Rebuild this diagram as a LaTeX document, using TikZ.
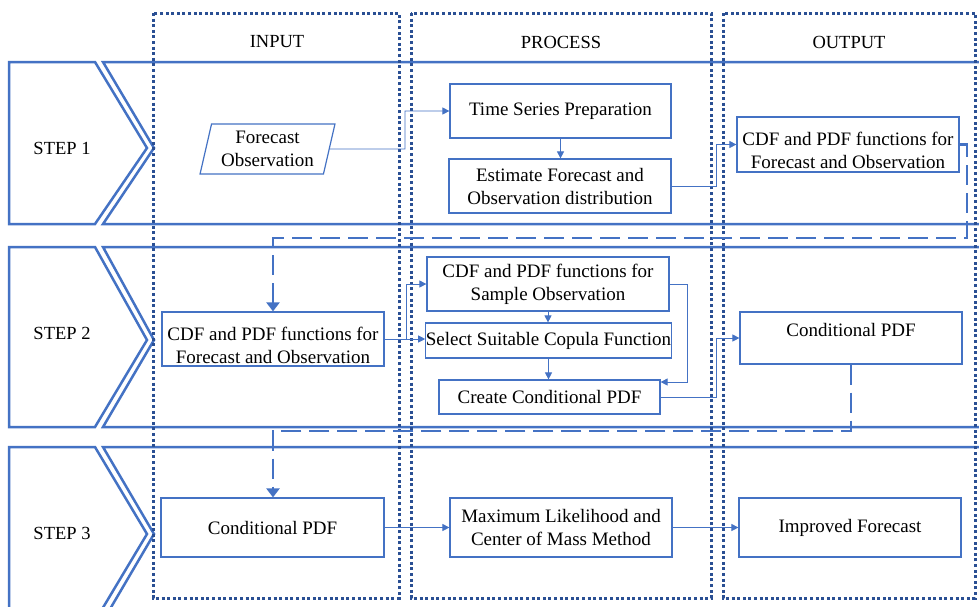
\documentclass[tikz,border=0pt]{standalone}
\usepackage{fontspec}
\setmainfont{Liberation Serif}
\usetikzlibrary{arrows.meta,shapes.geometric}
\definecolor{bandblue}{HTML}{4472C4}
\definecolor{dotblue}{HTML}{2A4F93}
\begin{document}
\begin{tikzpicture}[x=1pt,y=-1pt,
  txtfont/.style={font=\fontsize{19}{23}\selectfont},
  lblfont/.style={font=\fontsize{18.5}{22}\selectfont},
  bandline/.style={draw=bandblue, line width=2.5pt, line join=miter},
  colframe/.style={draw=dotblue, line width=3pt, dash pattern=on 3pt off 2.6pt},
  boxnode/.style={draw=bandblue, line width=1.2pt, fill=white, inner sep=0pt, align=center, txtfont},
  txtnode/.style={inner sep=0pt, align=center, txtfont},
  conn/.style={draw=bandblue, line width=0.8pt, -{Triangle[length=7pt,width=7pt]}},
  dconn/.style={draw=bandblue, line width=2.6pt, dash pattern=on 20pt off 8pt, -{Triangle[length=9pt,width=13pt]}},
  lab/.style={lblfont, inner sep=0pt}]
\useasboundingbox (0,0) rectangle (979,606);
\fill[white] (0,0) rectangle (979,606);
\clip (0,0) rectangle (979,606);

% step bands
\draw[bandline] (9,62) -- (95,62) -- (147,148) -- (95,224) -- (9,224) -- cycle;
\draw[bandline] (103,62) -- (995,62) -- (995,224) -- (103,224) -- (154,148) -- cycle;
\draw[bandline] (9,247) -- (95,247) -- (147,340) -- (95,427) -- (9,427) -- cycle;
\draw[bandline] (103,247) -- (995,247) -- (995,427) -- (103,427) -- (154,340) -- cycle;
\draw[bandline] (9,447) -- (95,447) -- (147,534) -- (95,621) -- (9,621) -- cycle;
\draw[bandline] (103,447) -- (995,447) -- (995,621) -- (103,621) -- (154,534) -- cycle;

% columns
\draw[colframe] (153,13) rectangle (399,598);
\draw[colframe] (411,13) rectangle (711,598);
\draw[colframe] (723,13) rectangle (975,598);

% labels
\node[lab] (hin) at (277,42) {INPUT};
\node[lab] (hpr) at (561,42) {PROCESS};
\node[lab] (hout) at (849,42) {OUTPUT};
\node[lab] (s1) at (62,148) {STEP 1};
\node[lab] (s2) at (62,333) {STEP 2};
\node[lab] (s3) at (62,533) {STEP 3};

% step 1 nodes
\node[trapezium, trapezium left angle=75, trapezium right angle=105, trapezium stretches=true,
      minimum width=135pt, minimum height=50pt, draw=bandblue, line width=1.2pt, fill=white,
      inner sep=0pt, align=center, txtfont] (fo) at (267.5,149) {Forecast\\Observation};
\node[boxnode, minimum width=221pt, minimum height=54pt] (ts) at (560.5,111) {Time Series Preparation};
\node[boxnode, minimum width=222pt, minimum height=54pt] (est) at (560,186) {Estimate Forecast and\\Observation distribution};
\node[boxnode, minimum width=222pt, minimum height=55pt] (cdf1) at (848,144.5) {};
\node[txtnode, yshift=-5.5pt] (cdf1t) at (cdf1) {CDF and PDF functions for\\Forecast and Observation};

% step 2 nodes
\node[boxnode, minimum width=222pt, minimum height=54pt] (cdf2) at (273,339) {};
\node[txtnode, yshift=-6pt] (cdf2t) at (cdf2) {CDF and PDF functions for\\Forecast and Observation};
\node[boxnode, minimum width=242pt, minimum height=54pt] (samp) at (548,284) {CDF and PDF functions for\\Sample Observation};
\node[boxnode, minimum width=245pt, minimum height=35pt] (sel) at (548.5,340.5) {Select Suitable Copula Function};
\node[boxnode, minimum width=221pt, minimum height=34pt] (cre) at (549.5,397) {Create Conditional PDF};
\node[boxnode, minimum width=222pt, minimum height=52pt] (cpdf1) at (851,338) {};
\node[txtnode, yshift=8pt] (cpdf1t) at (cpdf1) {Conditional PDF};

% step 3 nodes
\node[boxnode, minimum width=223pt, minimum height=59pt] (cpdf3) at (272.5,527.5) {Conditional PDF};
\node[boxnode, minimum width=222pt, minimum height=59pt] (ml) at (561,527.5) {Maximum Likelihood and\\Center of Mass Method};
\node[boxnode, minimum width=222pt, minimum height=59pt] (imp) at (850,527.5) {Improved Forecast};

% connectors
\coordinate (j1) at (405,149);
\draw[conn] (fo.east) -- (j1) |- (ts.west);
\draw[conn] (ts.south) -- (ts.south |- est.north);
\coordinate (j2) at (716,186);
\draw[conn] (est.east) -- (j2) |- (cdf1.west);
\coordinate (d1) at (967,238);
\coordinate (d2) at (273,238);
\draw[dconn] (cdf1.east) -| (d1) -- (d2) -- (cdf2.north);
\coordinate (j3) at (406,339);
\draw[conn] (cdf2.east) -- (j3) |- (samp.west);
\draw[conn] (j3) -- (j3 -| sel.west);
\draw[conn] (samp.south) -- (samp.south |- sel.north);
\draw[conn] (sel.south) -- (sel.south |- cre.north);
\coordinate (j4) at (687,284);
\coordinate (j5) at (687,382);
\draw[conn] (samp.east) -- (j4) -- (j5) -- (j5 -| cre.east);
\coordinate (j6) at (716,397);
\draw[conn] (cre.east) -- (j6) |- (cpdf1.west);
\coordinate (d3) at (851,431);
\coordinate (d4) at (273,431);
\draw[dconn] (cpdf1.south) -- (d3) -- (d4) -- (d4 |- cpdf3.north);
\draw[conn] (cpdf3.east) -- (ml.west);
\draw[conn] (ml.east) -- (imp.west);
\end{tikzpicture}
\end{document}
